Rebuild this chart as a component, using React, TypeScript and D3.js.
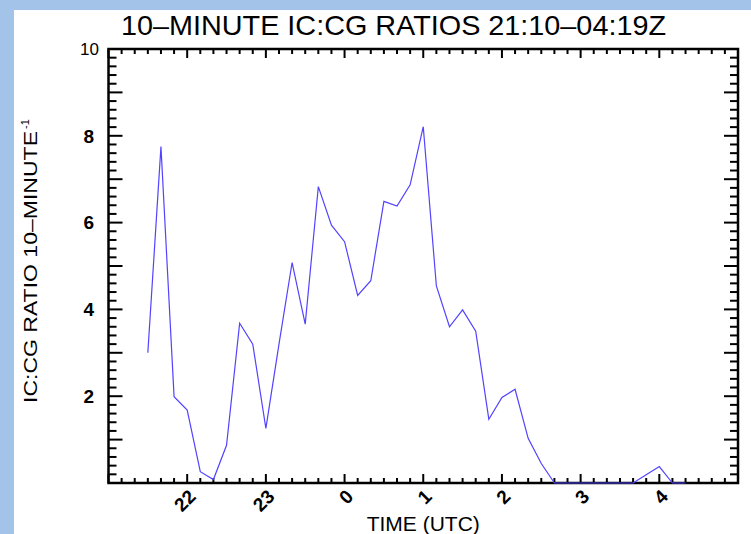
import React, { useEffect, useRef } from 'react';
import * as d3 from 'd3';

// 10-minute bins (UTC), first bin 21:30, last 04:20
const TIMES = [
  '21:30', '21:40', '21:50', '22:00', '22:10', '22:20', '22:30', '22:40', '22:50', '23:00',
  '23:10', '23:20', '23:30', '23:40', '23:50', '00:00', '00:10', '00:20', '00:30', '00:40',
  '00:50', '01:00', '01:10', '01:20', '01:30', '01:40', '01:50', '02:00', '02:10', '02:20',
  '02:30', '02:40', '02:50', '03:00', '03:10', '03:20', '03:30', '03:40', '03:50', '04:00',
  '04:10', '04:20',
];
const RATIOS = [
  3.0, 7.75, 1.99, 1.68, 0.26, 0.08, 0.87, 3.68, 3.2, 1.26,
  3.2, 5.08, 3.66, 6.83, 5.94, 5.56, 4.32, 4.66, 6.49, 6.38,
  6.87, 8.21, 4.54, 3.6, 3.99, 3.5, 1.47, 1.97, 2.16, 1.03,
  0.45, 0, 0, 0, 0, 0, 0, 0, 0.19, 0.38,
  0, 0,
];
const HOUR_TICKS = [22, 23, 24, 25, 26, 27, 28];
const HOUR_LABELS = ['22', '23', '0', '1', '2', '3', '4'];
const Y_LABELS = [2, 4, 6, 8, 10];

const TITLE = '10\u2013MINUTE IC:CG RATIOS 21:10\u201304:19Z';
const FONT = '"Liberation Sans", Arial, Helvetica, sans-serif';

const toHours = (t: string) => {
  const [h, m] = t.split(':').map(Number);
  return (h < 12 ? h + 24 : h) + m / 60;
};

const App = () => {
  const ref = useRef<SVGSVGElement>(null);

  useEffect(() => {
    if (!ref.current) return;
    const width = 751,
      height = 534,
      left = 108.5,
      right = 738,
      top = 49,
      bottom = 483;

    const svg = d3.select(ref.current);
    svg.selectAll('*').remove();

    svg.append('rect').attr('width', width).attr('height', height).attr('fill', 'white');
    // light blue frame strips
    svg.append('rect').attr('x', 0).attr('y', 0).attr('width', width).attr('height', 10).attr('fill', '#a3c3e9');
    svg.append('rect').attr('x', 0).attr('y', 0).attr('width', 14).attr('height', height).attr('fill', '#a3c3e9');

    const x = d3.scaleLinear().domain([21, 29]).range([left, right]);
    const y = d3.scaleLinear().domain([0, 10]).range([bottom, top]);

    const g = svg.append('g');

    // x ticks (bottom up, top down)
    const xMinor = d3.range(21 * 6, 29 * 6 + 1).map((v) => v / 6);
    xMinor.forEach((v) => {
      const major = Math.abs(v - Math.round(v)) < 1e-6;
      const len = major ? 9 : 5;
      g.append('line').attr('x1', x(v)).attr('x2', x(v)).attr('y1', bottom).attr('y2', bottom - len)
        .attr('stroke', 'black').attr('stroke-width', 2);
      g.append('line').attr('x1', x(v)).attr('x2', x(v)).attr('y1', top).attr('y2', top + len)
        .attr('stroke', 'black').attr('stroke-width', 2);
    });

    // y ticks (left and right, inward)
    const yMinor = d3.range(0, 51).map((v) => v / 5);
    yMinor.forEach((v) => {
      const major = Math.abs(v - Math.round(v)) < 1e-6;
      const len = major ? 14 : 8;
      g.append('line').attr('x1', left).attr('x2', left + len).attr('y1', y(v)).attr('y2', y(v))
        .attr('stroke', 'black').attr('stroke-width', 2);
      g.append('line').attr('x1', right).attr('x2', right - len).attr('y1', y(v)).attr('y2', y(v))
        .attr('stroke', 'black').attr('stroke-width', 2);
    });

    // box
    g.append('rect').attr('x', left).attr('y', top).attr('width', right - left).attr('height', bottom - top)
      .attr('fill', 'none').attr('stroke', 'black').attr('stroke-width', 2.5);

    // y tick labels
    Y_LABELS.forEach((v) => {
      const isTop = v === 10;
      g.append('text')
        .attr('x', isTop ? 99 : 94)
        .attr('y', y(v))
        .attr('dy', '0.36em')
        .attr('text-anchor', 'end')
        .attr('font-family', FONT)
        .attr('font-size', isTop ? 17 : 19)
        .attr('font-weight', isTop ? 'normal' : 'bold')
        .text(String(v));
    });

    // x tick labels, slanted
    HOUR_TICKS.forEach((h, i) => {
      g.append('text')
        .attr('transform', `translate(${x(h) + 5},${493}) rotate(-45)`)
        .attr('dy', '0.36em')
        .attr('text-anchor', 'end')
        .attr('font-family', FONT)
        .attr('font-size', 19)
        .attr('font-weight', 'bold')
        .text(HOUR_LABELS[i]);
    });

    // line
    const pts: [number, number][] = TIMES.map((t, i) => [toHours(t), RATIOS[i]]);
    const line = d3.line<[number, number]>().x((d) => x(d[0])).y((d) => y(d[1]));
    svg.append('path').attr('d', line(pts)).attr('fill', 'none').attr('stroke', '#5243ff').attr('stroke-width', 1.2);

    // titles
    svg.append('text')
      .attr('x', 121).attr('y', 35)
      .attr('font-family', FONT).attr('font-size', 28)
      .attr('textLength', 545).attr('lengthAdjust', 'spacingAndGlyphs')
      .text(TITLE);

    svg.append('text')
      .attr('x', (left + right) / 2).attr('y', 531)
      .attr('text-anchor', 'middle')
      .attr('font-family', FONT).attr('font-size', 21)
      .text('TIME (UTC)');

    svg.append('text')
      .attr('transform', 'translate(37,403) rotate(-90)')
      .attr('font-family', FONT).attr('font-size', 18)
      .attr('textLength', 272).attr('lengthAdjust', 'spacingAndGlyphs')
      .text('IC:CG RATIO 10\u2013MINUTE');
    svg.append('text')
      .attr('transform', 'translate(29,129) rotate(-90)')
      .attr('font-family', FONT).attr('font-size', 11)
      .text('-1');
  }, []);

  return (
    <div style={{ position: 'absolute', left: 0, top: 0 }}>
      <svg ref={ref} width={751} height={534} style={{ display: 'block' }} />
    </div>
  );
};

export default App;
